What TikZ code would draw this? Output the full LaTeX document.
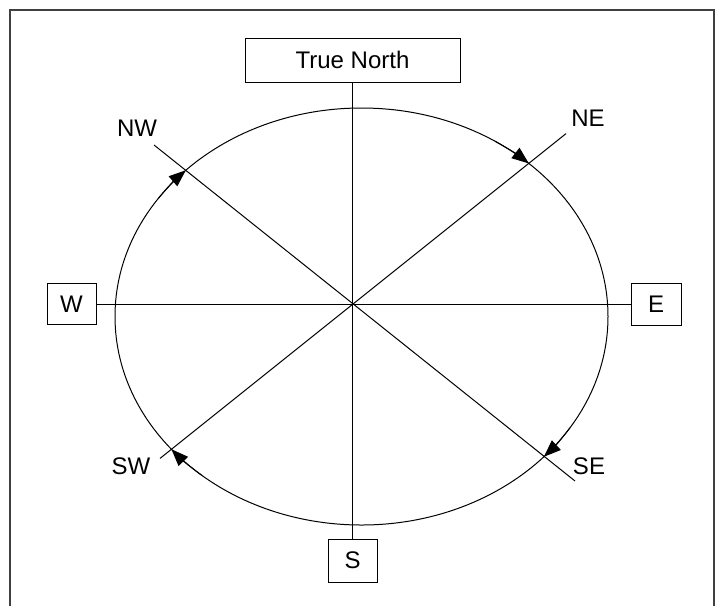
\documentclass[tikz,border=0pt]{standalone}
\usepackage{fontspec}
\setmainfont{Liberation Sans}
\usetikzlibrary{arrows.meta,calc}
\begin{document}
\begin{tikzpicture}[x=0.5pt,y=-0.5pt,
  txt/.style={font=\fontsize{12pt}{14pt}\selectfont},
  box/.style={draw, line width=0.5pt, inner sep=0pt, txt},
  lbl/.style={inner sep=0pt, txt},
  ln/.style={line width=0.5pt},
  arr/.style={line width=0.5pt, -{Triangle[length=8.5pt,width=6.5pt]}}]
\useasboundingbox (0,0) rectangle (717,606);
\draw[line width=0.7pt, black!75] (10,606) -- (10,10) -- (714,10) -- (714,606);

% boxes
\node[box, minimum width=107.5pt, minimum height=22pt] (tn) at (352.5,60) {True North};
\node[box, minimum width=24.5pt, minimum height=20.5pt] (w) at (71.5,304) {W};
\node[box, minimum width=25pt, minimum height=21pt] (e) at (656,304) {E};
\node[box, minimum width=24.5pt, minimum height=21.5pt] (s) at (352.5,560.5) {S};

% labels
\node[lbl] (nw) at (137,128) {NW};
\node[lbl] (ne) at (588,118) {NE};
\node[lbl] (se) at (589,466) {SE};
\node[lbl] (sw) at (131,466) {SW};

% ellipse
\coordinate (C) at (361.5,316.5);
\draw[ln] (C) ellipse [x radius=123.25pt, y radius=104.25pt];

% axes
\draw[ln] (tn.south) -- (s.north);
\draw[ln] (w.east) -- (e.west);

% diagonals
\coordinate (nwEnd) at (154,145);
\coordinate (seEnd) at (575,481);
\coordinate (neEnd) at (566,133.6);
\coordinate (swEnd) at (160,458.4);
\draw[ln] (nwEnd) -- (seEnd);
\draw[ln] (neEnd) -- (swEnd);

% arrowheads on the ellipse (clockwise)
\draw[arr] ($(C)+(-214.55:123.25pt and 104.25pt)$) arc[start angle=-214.55, end angle=-224.55, x radius=123.25pt, y radius=104.25pt];
\draw[arr] ($(C)+(-302.75:123.25pt and 104.25pt)$) arc[start angle=-302.75, end angle=-312.75, x radius=123.25pt, y radius=104.25pt];
\draw[arr] ($(C)+(-32.26:123.25pt and 104.25pt)$) arc[start angle=-32.26, end angle=-42.26, x radius=123.25pt, y radius=104.25pt];
\draw[arr] ($(C)+(-130.45:123.25pt and 104.25pt)$) arc[start angle=-130.45, end angle=-140.45, x radius=123.25pt, y radius=104.25pt];
\end{tikzpicture}
\end{document}
